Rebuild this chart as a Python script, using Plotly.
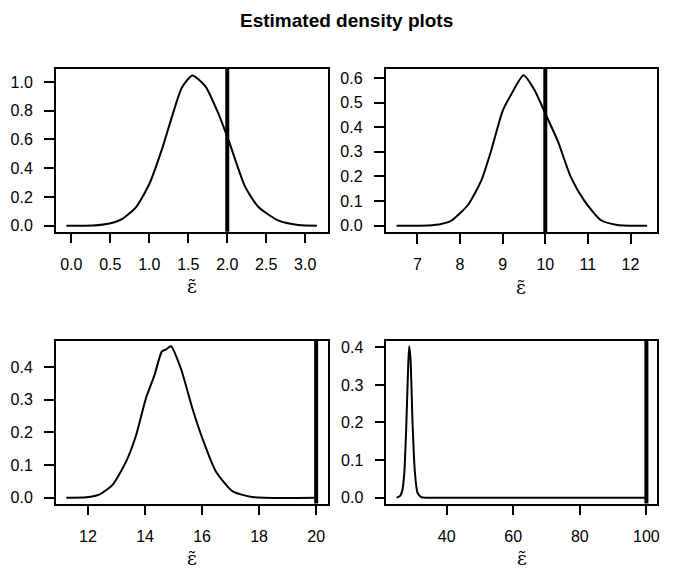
import plotly.graph_objects as go

# ---- data ----
x1 = [-0.064, 0.277, 0.49, 0.66, 0.83, 1.0, 1.17, 1.30, 1.417, 1.553, 1.72, 1.89, 2.02, 2.23, 2.40, 2.66, 2.91, 3.15]
y1 = [0.0, 0.002, 0.016, 0.05, 0.13, 0.29, 0.545, 0.775, 0.96, 1.046, 0.97, 0.775, 0.59, 0.27, 0.13, 0.035, 0.005, 0.0]
true1 = 2.0

x2 = [6.51, 7.25, 7.56, 7.79, 8.18, 8.50, 8.73, 9.0, 9.2, 9.49, 9.74, 10.01, 10.29, 10.6, 10.91, 11.3, 11.69, 12.39]
y2 = [0.0, 0.001, 0.007, 0.02, 0.083, 0.184, 0.305, 0.466, 0.533, 0.611, 0.553, 0.452, 0.345, 0.197, 0.103, 0.023, 0.003, 0.0]
true2 = 10.0

x3 = [11.24, 11.94, 12.41, 12.87, 13.34, 13.69, 14.03, 14.33, 14.59, 14.73, 14.91, 15.26, 15.66, 16.01, 16.48, 17.06, 17.76, 19.94]
y3 = [0.0, 0.001, 0.01, 0.04, 0.111, 0.192, 0.304, 0.375, 0.448, 0.454, 0.464, 0.395, 0.274, 0.182, 0.081, 0.02, 0.002, 0.0]
true3 = 20.0

x4 = [24.94, 25.94, 26.64, 27.24, 27.84, 28.44, 28.73, 29.13, 29.73, 30.43, 31.23, 32.4, 34.4, 100.0]
y4 = [0.0, 0.004, 0.018, 0.062, 0.185, 0.352, 0.403, 0.37, 0.202, 0.07, 0.013, 0.001, 0.0, 0.0]
true4 = 100.0

xticks1 = [0.0, 0.5, 1.0, 1.5, 2.0, 2.5, 3.0]
yticks1 = [0.0, 0.2, 0.4, 0.6, 0.8, 1.0]
xticks2 = [7, 8, 9, 10, 11, 12]
yticks2 = [0.0, 0.1, 0.2, 0.3, 0.4, 0.5, 0.6]
xticks3 = [12, 14, 16, 18, 20]
yticks3 = [0.0, 0.1, 0.2, 0.3, 0.4]
xticks4 = [40, 60, 80, 100]
yticks4 = [0.0, 0.1, 0.2, 0.3, 0.4]

title = "Estimated density plots"
xlabel = "\u03b5\u0303"

W, H = 673, 573

panels = [
    dict(x=x1, y=y1, v=true1, xt=xticks1, yt=yticks1, xf=".1f", yf=".1f",
         xr=[-0.2, 3.29], yr=[-0.0414, 1.0924], px=(56, 329.3), py=(67.3, 231.7)),
    dict(x=x2, y=y2, v=true2, xt=xticks2, yt=yticks2, xf="d", yf=".1f",
         xr=[6.252, 12.623], yr=[-0.0268, 0.6376], px=(387.3, 660), py=(67.3, 232.3)),
    dict(x=x3, y=y3, v=true3, xt=xticks3, yt=yticks3, xf="d", yf=".1f",
         xr=[10.87, 20.41], yr=[-0.0182, 0.481], px=(56, 329.3), py=(341.7, 506)),
    dict(x=x4, y=y4, v=true4, xt=xticks4, yt=yticks4, xf="d", yf=".1f",
         xr=[21.85, 103.2], yr=[-0.0158, 0.4176], px=(388, 660), py=(341.7, 506)),
]

fig = go.Figure()
font = "Liberation Sans, Arial, Helvetica, sans-serif"
serif = "DejaVu Serif, Liberation Serif, serif"
layout = dict(
    width=W, height=H, autosize=False,
    margin=dict(l=0, r=0, t=0, b=0),
    paper_bgcolor="white", plot_bgcolor="white",
    showlegend=False,
    font=dict(family=font, size=16, color="black"),
)
annotations = []
shapes = []

for i, p in enumerate(panels, start=1):
    xa = "x" if i == 1 else f"x{i}"
    ya = "y" if i == 1 else f"y{i}"
    fig.add_trace(go.Scatter(x=p["x"], y=p["y"], mode="lines",
                             line=dict(color="black", width=2, shape="spline", smoothing=0.6),
                             xaxis=xa, yaxis=ya, hoverinfo="skip"))
    shapes.append(dict(type="line", xref=xa, yref=f"{ya} domain", x0=p["v"], x1=p["v"],
                       y0=0, y1=1, line=dict(color="black", width=4)))
    x0, x1_ = p["px"]
    y0, y1_ = p["py"]
    common = dict(showline=True, linecolor="black", linewidth=1.5, mirror=True,
                  ticks="outside", ticklen=10, tickwidth=1.5, tickcolor="black",
                  showgrid=False, zeroline=False,
                  tickfont=dict(family=font, size=16, color="black"))
    layout[f"xaxis{'' if i == 1 else i}"] = dict(
        domain=[x0 / W, x1_ / W], range=p["xr"], anchor=ya,
        tickmode="array", tickvals=p["xt"],
        ticktext=[format(t, p["xf"]) for t in p["xt"]],
        ticklabelstandoff=7, **common)
    layout[f"yaxis{'' if i == 1 else i}"] = dict(
        domain=[1 - y1_ / H, 1 - y0 / H], range=p["yr"], anchor=xa,
        tickmode="array", tickvals=p["yt"],
        ticktext=[format(t, p["yf"]) for t in p["yt"]],
        ticklabelstandoff=8, **common)
    cx = (x0 + x1_) / 2 / W
    annotations.append(dict(text=xlabel, x=cx, y=max(0.0, 1 - (y1_ + 67) / H),
                            xref="paper", yref="paper", showarrow=False,
                            xanchor="center", yanchor="bottom", borderpad=0,
                            font=dict(family=serif, size=19, color="black")))

annotations.append(dict(text="<b>" + title + "</b>", x=348 / W, y=1 - 18.5 / H,
                        xref="paper", yref="paper", showarrow=False,
                        xanchor="center", yanchor="middle",
                        font=dict(family=font, size=19, color="black")))

layout["annotations"] = annotations
layout["shapes"] = shapes
fig.update_layout(**layout)
fig.write_html("out.html", config={"displayModeBar": False},
               post_script="document.body.style.margin='0px';document.body.style.overflow='hidden';")
